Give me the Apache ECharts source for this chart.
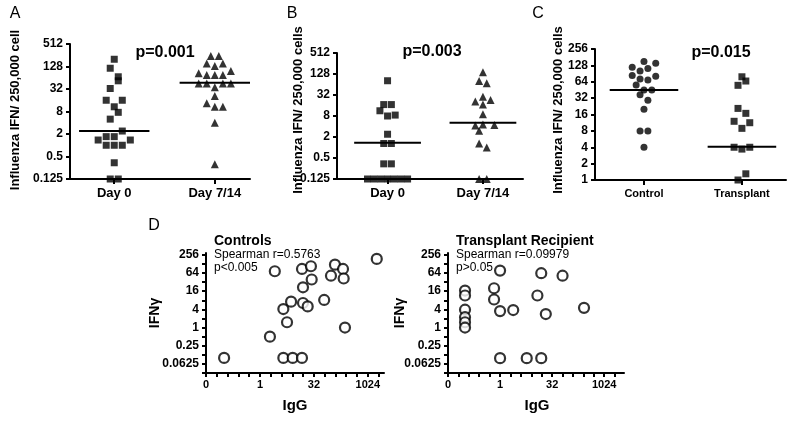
<!DOCTYPE html>
<html><head><meta charset="utf-8">
<script src="https://cdn.jsdelivr.net/npm/echarts@6/dist/echarts.min.js"></script>
<style>html,body{margin:0;padding:0;background:#fff}#c{width:800px;height:421px}</style>
</head><body><div id="c"></div>
<script>
// ---------- DATA ----------
// Panel A
const catsA = ['Day 0', 'Day 7/14'];
const aDay0 = [200,115,68,53,33,16,16,10.7,7.6,5,2.4,1.7,1.7,1.38,1.38,1.0,1.0,1.0,0.34,0.125,0.125];
const aDay0Slot = [0,-1,1,1,-1,-2,2,0,1,-1,2,-2,0,-4,4,-2,0,2,0,-1,1];
const aDay714 = [244,244,155,155,132,97,84,76,76,76,45,45,45,45,35.5,20.8,13.3,10.8,10.8,4,0.31];
const aDay714Slot = [-1,1,-2,2,0,4,-4,-2,0,2,-4,-2,2,4,0,0,-2,0,2,0,0];
const aMedians = [2.4, 47];
const aP = 'p=0.001';
// Panel B
const catsB = ['Day 0', 'Day 7/14'];
const bDay0 = [82,17,17,11.3,8,8.5,2.4,1.3,1.3,0.34,0.34,0.125,0.125,0.125,0.125,0.125,0.125,0.125];
const bDay0Slot = [0,-1,1,-2,0,2,0,-1,1,-1,1,-5.25,-3.5,-1.75,0,1.75,3.5,5.25];
const bDay714 = [143,80,70,28.6,21,23,17,9,4.3,4.6,4.4,3,1.3,1.0,0.125,0.125];
const bDay714Slot = [0,-1,1,0,-2,2,0,0,-2,0,3,-1,-1,1,-1,1];
const bMedians = [1.37, 5.1];
const bP = 'p=0.003';
// Panel C
const catsC = ['Control', 'Transplant'];
const cControl = [151,140,118,101,112,83,72,68.6,81,56,45,45,37,29.4,20,8,8,4];
const cControlSlot = [0,3,-3,-1,1,-3,-1,1,3,-2,0,2,-1,1,0,-1,1,0];
const cTransplant = [79,66,55,20.7,16.8,12,11.3,8.9,4,3.7,4,1.3,1.0];
const cTransplantSlot = [0,1,-1,-1,1,-2,2,0,-2,0,2,1,-1];
const cMedians = [45, 4.1];
const cP = 'p=0.015';
// Panel D
const dCtrlIgG = [0.1,1.9,2.6,4.5,8.2,14.9,4.5,5.7,7.4,14.9,26.5,15.9,15.9,21.5,27.8,62,96,124,208,217,236,1820];
const dCtrlIFN = [0.099,0.5,73,0.099,0.099,0.099,4.1,1.5,7.2,87,107,21.5,6.5,5,39,8.2,52,121,87,42,1.0,187];
const dTxIgG = [0.097,0.097,0.097,0.097,0.097,0.097,1,0.67,0.67,1,2.4,1,5.9,15.5,15.5,12,21,64,267];
const dTxIFN = [16.8,11.5,3.9,2.2,1.5,1.0,77,20,8.5,3.5,3.8,0.097,0.097,0.097,63,11.5,2.8,52,4.5];
const dCtrlText = ['Controls', 'Spearman r=0.5763', 'p<0.005'];
const dTxText = ['Transplant Recipient', 'Spearman r=0.09979', 'p>0.05'];
// Tick labels
const ticksAB = ['0.125','0.5','2','8','32','128','512'];
const ticksC = ['1','2','4','8','16','32','64','128','256'];
const ticksDY = ['0.0625','0.25','1','4','16','64','256'];
const ticksDX = ['0','1','32','1024'];
const yTitleA = 'Influenza IFN/ 250,000 cell';
const yTitleBC = 'Influenza IFN/ 250,000 cells';

// ---------- HELPERS ----------
const FONT = '"Liberation Sans", Arial, sans-serif';
const L2 = Math.log2;
const SLOT = 0.04, HW = 0.35;
const key = v => String(Math.round(v * 1000) / 1000);
function labelMap(labels, zeroAt) {
  const m = {};
  labels.forEach(s => { const e = (s === '0') ? zeroAt : L2(parseFloat(s)); m[key(e)] = s; });
  return m;
}
function range(a, b) { const r = []; for (let i = a; i <= b; i++) r.push(i); return r; }
const axisLine = {show: true, onZero: false, lineStyle: {color: '#000', width: 2}};
function yAx(gi, min, max, labels, tickVals, fs) {
  const m = labelMap(labels);
  const lv = labels.map(s => L2(parseFloat(s)));
  return {type: 'value', gridIndex: gi, min, max, splitLine: {show: false}, axisLine,
    axisTick: {show: true, customValues: tickVals || lv, length: 4, lineStyle: {color: '#000', width: 2}},
    axisLabel: {customValues: lv, formatter: v => m[key(v)] || '', color: '#000', fontWeight: 'bold',
      fontSize: fs, fontFamily: FONT, margin: 7}};
}
function xCat(gi, min, max, cats, fs) {
  return {type: 'value', gridIndex: gi, min, max, splitLine: {show: false}, axisLine,
    axisTick: {show: true, customValues: [1, 2], length: 5, lineStyle: {color: '#000', width: 2}},
    axisLabel: {customValues: [1, 2], formatter: v => cats[Math.round(v) - 1] || '', color: '#000',
      fontWeight: 'bold', fontSize: fs, fontFamily: FONT, margin: 8}};
}
function xLog(gi, min, max, labels) {
  const m = labelMap(labels, min);
  const lv = labels.map(s => s === '0' ? min : L2(parseFloat(s)));
  return {type: 'value', gridIndex: gi, min, max, splitLine: {show: false}, axisLine,
    axisTick: {show: true, customValues: range(Math.ceil(min), Math.floor(max)), length: 4, lineStyle: {color: '#000', width: 2}},
    axisLabel: {customValues: lv, formatter: v => m[key(v)] || '', color: '#000', fontWeight: 'bold',
      fontSize: 11, fontFamily: FONT, margin: 6}};
}
function dots(ai, cat, vals, slots, symbol, size) {
  return {type: 'scatter', xAxisIndex: ai, yAxisIndex: ai, symbol, symbolSize: size, clip: false, silent: true,
    itemStyle: {color: '#000'}, data: vals.map((v, i) => [cat + slots[i] * SLOT, L2(v)])};
}
function median(ai, cat, m) {
  return {type: 'line', xAxisIndex: ai, yAxisIndex: ai, symbol: 'none', silent: true,
    lineStyle: {color: '#000', width: 2}, data: [[cat - HW, L2(m)], [cat + HW, L2(m)]]};
}
function circles(ai, xs, ys) {
  return {type: 'scatter', xAxisIndex: ai, yAxisIndex: ai, symbol: 'circle', symbolSize: 10, clip: false, silent: true,
    itemStyle: {color: '#fff', borderColor: '#000', borderWidth: 2.2}, data: xs.map((x, i) => [L2(x), L2(ys[i])])};
}
function txt(x, y, text, font, align, rot) {
  return {type: 'text', x, y, rotation: rot || 0, silent: true,
    style: {text, x: 0, y: 0, font, fill: '#000', textAlign: align || 'center', textVerticalAlign: 'middle'}};
}

// ---------- CHART ----------
const chart = echarts.init(document.getElementById('c'), null, {renderer: 'canvas'});
const dTicksY = range(-5, 8);
chart.setOption({
  animation: false,
  backgroundColor: '#fff',
  grid: [
    {left: 70, top: 44, width: 180, height: 135},
    {left: 337, top: 53, width: 186, height: 126},
    {left: 595, top: 49, width: 191, height: 131},
    {left: 206, top: 253, width: 178, height: 120},
    {left: 448, top: 253, width: 176, height: 120}
  ],
  xAxis: [
    xCat(0, 0.56, 2.35, catsA, 13),
    xCat(1, 0.47, 2.42, catsB, 13),
    xCat(2, 0.5, 2.45, catsC, 11),
    xLog(3, -5, 11.5, ticksDX),
    xLog(4, -5, 11.9, ticksDX)
  ],
  yAxis: [
    yAx(0, -3, 9, ticksAB, null, 12),
    yAx(1, -3, 9, ticksAB, null, 12),
    yAx(2, 0, 8, ticksC, null, 12),
    yAx(3, -5, 8.2, ticksDY, dTicksY, 12),
    yAx(4, -5, 8.2, ticksDY, dTicksY, 12)
  ],
  series: [
    dots(0, 1, aDay0, aDay0Slot, 'rect', 7),
    dots(0, 2, aDay714, aDay714Slot, 'triangle', 8),
    median(0, 1, aMedians[0]), median(0, 2, aMedians[1]),
    dots(1, 1, bDay0, bDay0Slot, 'rect', 7),
    dots(1, 2, bDay714, bDay714Slot, 'triangle', 8),
    median(1, 1, bMedians[0]), median(1, 2, bMedians[1]),
    dots(2, 1, cControl, cControlSlot, 'circle', 7),
    dots(2, 2, cTransplant, cTransplantSlot, 'rect', 7),
    median(2, 1, cMedians[0]), median(2, 2, cMedians[1]),
    circles(3, dCtrlIgG, dCtrlIFN),
    circles(4, dTxIgG, dTxIFN)
  ],
  graphic: [
    txt(15, 14, 'A', '16px ' + FONT),
    txt(292, 14, 'B', '16px ' + FONT),
    txt(538, 14, 'C', '16px ' + FONT),
    txt(154, 226, 'D', '16px ' + FONT),
    txt(165, 53, aP, 'bold 16px ' + FONT),
    txt(432, 52, bP, 'bold 16px ' + FONT),
    txt(721, 53, cP, 'bold 16px ' + FONT),
    txt(15, 110, yTitleA, 'bold 13px ' + FONT, 'center', Math.PI / 2),
    txt(298, 110, yTitleBC, 'bold 13px ' + FONT, 'center', Math.PI / 2),
    txt(558, 110, yTitleBC, 'bold 13px ' + FONT, 'center', Math.PI / 2),
    txt(214, 241, dCtrlText[0], 'bold 14px ' + FONT, 'left'),
    txt(214, 255, dCtrlText[1], '12px ' + FONT, 'left'),
    txt(214, 268, dCtrlText[2], '12px ' + FONT, 'left'),
    txt(456, 241, dTxText[0], 'bold 14px ' + FONT, 'left'),
    txt(456, 255, dTxText[1], '12px ' + FONT, 'left'),
    txt(456, 268, dTxText[2], '12px ' + FONT, 'left'),
    txt(295, 406, 'IgG', 'bold 15px ' + FONT),
    txt(537, 406, 'IgG', 'bold 15px ' + FONT),
    txt(155, 313, 'IFNγ', 'bold 14px ' + FONT, 'center', Math.PI / 2),
    txt(400, 313, 'IFNγ', 'bold 14px ' + FONT, 'center', Math.PI / 2)
  ]
});
</script>
</body></html>
